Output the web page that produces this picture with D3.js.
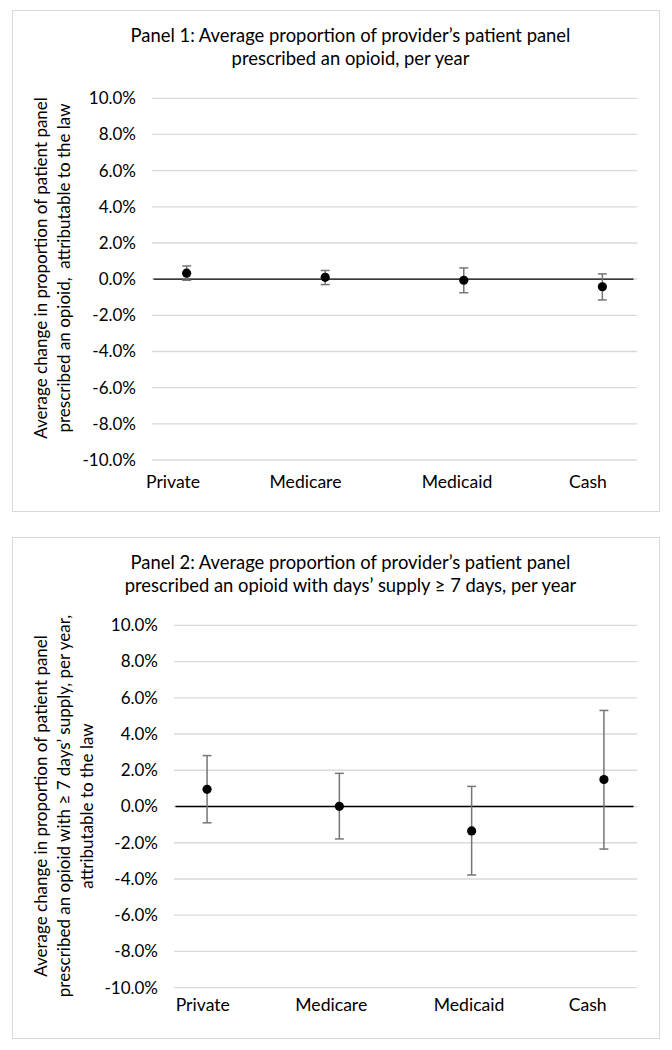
<!DOCTYPE html>
<html>
<head>
<meta charset="utf-8">
<script src="https://cdn.jsdelivr.net/npm/d3@7"></script>
<style>
  body { margin: 0; background: #fff; }
  svg text { font-family: Lato, "Open Sans", sans-serif; fill: #000; white-space: pre; }
</style>
</head>
<body>
<div id="main"></div>
<script>
// categories on the x axis
const categories = ["Private", "Medicare", "Medicaid", "Cash"];
const yTicks = [10, 8, 6, 4, 2, 0, -2, -4, -6, -8, -10];

// panel 1 - values in percent
const p1Title = ["Panel 1: Average proportion of provider’s patient panel", "prescribed an opioid, per year"];
const p1AxisTitle = ["Average change in proportion of patient panel", "prescribed an opioid,  attributable to the law"];
const p1Estimate = [0.33, 0.10, -0.06, -0.42];
const p1Lower = [-0.06, -0.30, -0.75, -1.15];
const p1Upper = [0.73, 0.48, 0.62, 0.29];

// panel 2 - values in percent
const p2Title = ["Panel 2: Average proportion of provider’s patient panel", "prescribed an opioid with days’ supply ≥ 7 days, per year"];
const p2AxisTitle = ["Average change in proportion of patient panel", "prescribed an opioid with ≥ 7 days’ supply, per year,", "attributable to the law"];
const p2Estimate = [0.95, 0.01, -1.35, 1.49];
const p2Lower = [-0.90, -1.79, -3.78, -2.35];
const p2Upper = [2.81, 1.83, 1.11, 5.30];

const fontSize = 17;
const titleSize = 18.4;
const catSize = 17.6;
const lineGap = 23;

const panels = [
  {
    title: p1Title, axisTitle: p1AxisTitle,
    est: p1Estimate, lo: p1Lower, hi: p1Upper,
    box: {x: 12, y: 10, w: 647, h: 501},
    plot: {left: 152, right: 637, top: 98.3, bottom: 460},
    titleY: 42, axisMid: 268, catY: 488,
    labelShift: [-13.6, -19.7, -6.8, -14.4]
  },
  {
    title: p2Title, axisTitle: p2AxisTitle,
    est: p2Estimate, lo: p2Lower, hi: p2Upper,
    box: {x: 12, y: 537, w: 647, h: 501},
    plot: {left: 174, right: 637, top: 625.3, bottom: 987.7},
    titleY: 568.5, axisMid: 806, catY: 1010.7,
    labelShift: [-4.3, -8.1, -2.6, -16.3]
  }
];

const svg = d3.select("#main")
  .append("svg")
  .attr("width", 672)
  .attr("height", 1050);

panels.forEach(drawPanel);

function drawPanel(p) {
  const g = svg.append("g");

  g.append("rect")
    .attr("x", p.box.x + 0.5)
    .attr("y", p.box.y + 0.5)
    .attr("width", p.box.w)
    .attr("height", p.box.h)
    .attr("fill", "#fff")
    .attr("stroke", "#d9d9d9");

  const x = d3.scalePoint()
    .domain(categories)
    .range([p.plot.left, p.plot.right])
    .padding(0.25);

  const y = d3.scaleLinear()
    .domain([-10, 10])
    .range([p.plot.bottom, p.plot.top]);

  // gridlines
  g.selectAll("line.grid")
    .data(yTicks)
    .enter()
    .append("line")
    .attr("class", "grid")
    .attr("x1", p.plot.left)
    .attr("x2", p.plot.right)
    .attr("y1", d => y(d))
    .attr("y2", d => y(d))
    .attr("stroke", "#d9d9d9")
    .attr("stroke-width", 1.3);

  // y axis labels
  const yAxis = d3.axisLeft(y)
    .tickValues(yTicks)
    .tickSize(0)
    .tickPadding(16)
    .tickFormat(d => d.toFixed(1) + "%");

  g.append("g")
    .attr("transform", `translate(${p.plot.left},0)`)
    .call(yAxis)
    .call(a => a.select(".domain").remove())
    .selectAll("text")
    .attr("font-size", fontSize)
    .attr("font-family", null);

  // zero line
  g.append("line")
    .attr("x1", p.plot.left + 1.5)
    .attr("x2", p.plot.right - 3.5)
    .attr("y1", y(0))
    .attr("y2", y(0))
    .attr("stroke", "#000")
    .attr("stroke-width", 1.3);

  // category labels
  g.selectAll("text.cat")
    .data(categories)
    .enter()
    .append("text")
    .attr("class", "cat")
    .attr("x", (d, i) => x(d) + p.labelShift[i])
    .attr("y", p.catY)
    .attr("text-anchor", "middle")
    .attr("font-size", catSize)
    .text(d => d);

  // error bars
  const rows = categories.map((c, i) => ({cat: c, est: p.est[i], lo: p.lo[i], hi: p.hi[i]}));
  const capW = 4.5;

  const bars = g.selectAll("g.err")
    .data(rows)
    .enter()
    .append("g")
    .attr("class", "err")
    .attr("stroke", "#767676")
    .attr("stroke-width", 1.5);

  bars.append("line")
    .attr("x1", d => x(d.cat))
    .attr("x2", d => x(d.cat))
    .attr("y1", d => y(d.lo))
    .attr("y2", d => y(d.hi));

  bars.append("line")
    .attr("x1", d => x(d.cat) - capW)
    .attr("x2", d => x(d.cat) + capW)
    .attr("y1", d => y(d.hi))
    .attr("y2", d => y(d.hi));

  bars.append("line")
    .attr("x1", d => x(d.cat) - capW)
    .attr("x2", d => x(d.cat) + capW)
    .attr("y1", d => y(d.lo))
    .attr("y2", d => y(d.lo));

  g.selectAll("circle.pt")
    .data(rows)
    .enter()
    .append("circle")
    .attr("class", "pt")
    .attr("cx", d => x(d.cat))
    .attr("cy", d => y(d.est))
    .attr("r", 4.6)
    .attr("fill", "#000");

  // chart title
  g.selectAll("text.title")
    .data(p.title)
    .enter()
    .append("text")
    .attr("class", "title")
    .attr("x", 350.5)
    .attr("y", (d, i) => p.titleY + i * lineGap)
    .attr("text-anchor", "middle")
    .attr("font-size", titleSize)
    .text(d => d);

  // rotated y axis title
  g.selectAll("text.ytitle")
    .data(p.axisTitle)
    .enter()
    .append("text")
    .attr("class", "ytitle")
    .attr("transform", (d, i) => `translate(${47 + i * lineGap},${p.axisMid}) rotate(-90)`)
    .attr("text-anchor", "middle")
    .attr("font-size", fontSize)
    .text(d => d);
}
</script>
</body>
</html>
